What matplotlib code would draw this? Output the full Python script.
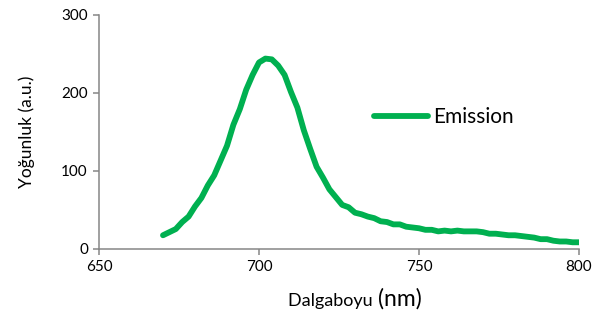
import matplotlib
matplotlib.use('Agg')
from matplotlib import pyplot as plt

plt.rcParams['font.family'] = ['Lato', 'DejaVu Sans']

wavelength = [670, 672, 674, 676, 678, 680, 682, 684, 686, 688,
              690, 692, 694, 696, 698, 700, 702, 704, 706, 708,
              710, 712, 714, 716, 718, 720, 722, 724, 726, 728,
              730, 732, 734, 736, 738, 740, 742, 744, 746, 748,
              750, 752, 754, 756, 758, 760, 762, 764, 766, 768,
              770, 772, 774, 776, 778, 780, 782, 784, 786, 788,
              790, 792, 794, 796, 798, 800]
intensity = [17, 21, 25, 34, 41, 54, 65, 81, 94, 113,
             132, 159, 179, 204, 223, 239, 244, 243, 235, 223,
             201, 181, 152, 128, 105, 91, 76, 66, 56, 53,
             46, 44, 41, 39, 35, 34, 31, 31, 28, 27,
             26, 24, 24, 22, 23, 22, 23, 22, 22, 22,
             21, 19, 19, 18, 17, 17, 16, 15, 14, 12,
             12, 10, 9, 9, 8, 8]

green = '#00B050'
grey = '#868686'

fig = plt.figure(figsize=(5.93, 3.22), dpi=100)
ax = fig.add_axes([99 / 593, 1 - 248.5 / 322, 480 / 593, 233.5 / 322])

ax.plot(wavelength, intensity, color=green, linewidth=4.2,
        solid_capstyle='round', solid_joinstyle='round', label='Emission')

ax.set_xlim(650, 800)
ax.set_ylim(0, 300)
ax.set_xticks([650, 700, 750, 800])
ax.set_yticks([0, 100, 200, 300])

for side in ['top', 'right']:
    ax.spines[side].set_visible(False)
for side in ['left', 'bottom']:
    ax.spines[side].set_color(grey)
    ax.spines[side].set_linewidth(1.1)
ax.tick_params(direction='out', length=4.5, width=1.1, color=grey,
               labelsize=11, labelcolor='black', pad=3.5)

ax.set_ylabel('Yoğunluk (a.u.)', fontsize=12.5, labelpad=19)

# x label: "(nm)" is drawn bigger than the rest
fig.text(377 / 593, 1 - 301 / 322, 'Dalgaboyu ', ha='right', va='center', fontsize=13)
fig.text(378 / 593, 1 - 299 / 322, '(nm)', ha='left', va='center', fontsize=16.5)

ax.legend(loc='center left', bbox_to_anchor=(374 / 593, 1 - 117 / 322),
          bbox_transform=fig.transFigure, frameon=False, borderpad=0,
          borderaxespad=0, handlelength=2.6, handletextpad=0.25, fontsize=15)

fig.savefig('out.png', dpi=100)
